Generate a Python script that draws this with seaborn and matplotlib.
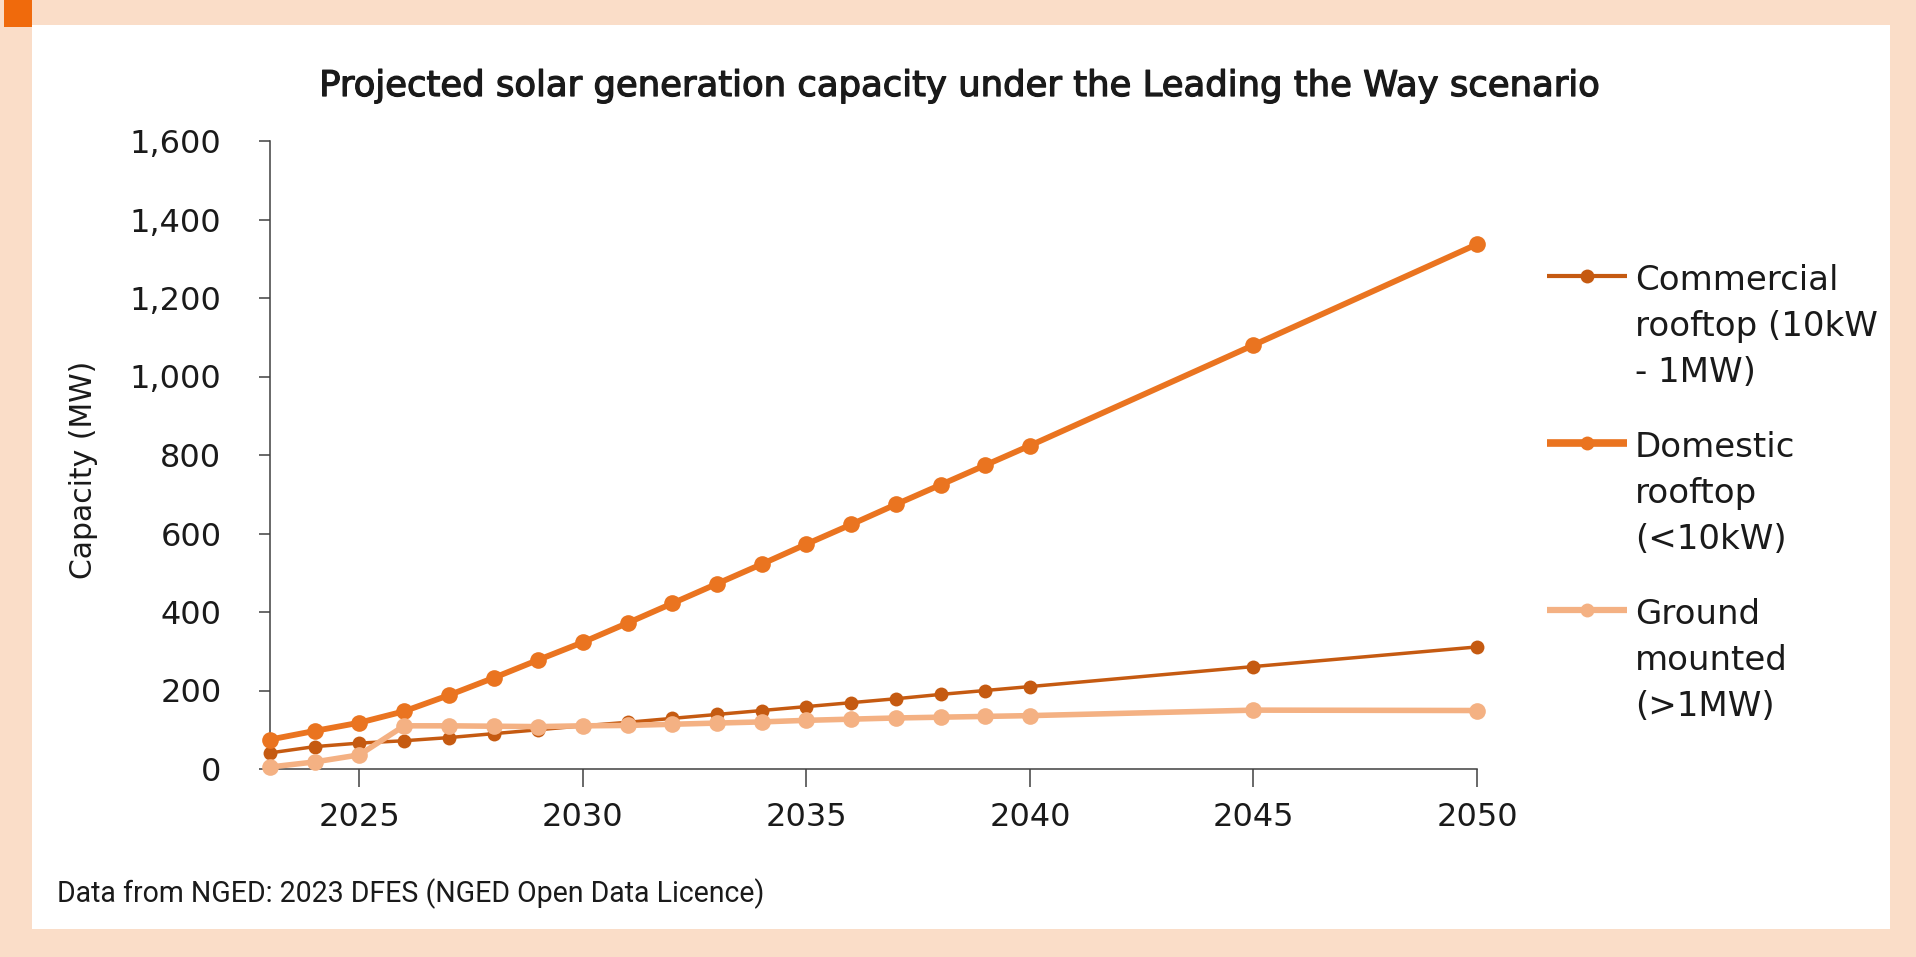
import matplotlib
matplotlib.use("Agg")
import matplotlib.pyplot as plt
from matplotlib.lines import Line2D
from matplotlib.patches import Rectangle
import matplotlib.patheffects as pe
import seaborn as sns
import pandas as pd

# Projected capacity (MW), Leading the Way scenario
years = [2023, 2024, 2025, 2026, 2027, 2028, 2029, 2030, 2031, 2032,
         2033, 2034, 2035, 2036, 2037, 2038, 2039, 2040, 2045, 2050]
commercial = [41, 57, 66, 72, 80, 90, 100, 110, 119, 129,
              139, 149, 159, 169, 179, 190, 200, 210, 261, 311]
domestic = [75, 97, 118, 147, 188, 232, 278, 323, 372, 422,
            472, 522, 573, 623, 674, 724, 774, 824, 1080, 1337]
ground = [5, 18, 36, 110, 110, 109, 108, 110, 111, 114,
          117, 120, 124, 127, 130, 132, 134, 136, 150, 149]

series_names = ["Commercial\nrooftop (10kW\n- 1MW)",
                "Domestic\nrooftop\n(<10kW)",
                "Ground\nmounted\n(>1MW)"]
series_values = [commercial, domestic, ground]
series_colors = ["#C55A11", "#EA7420", "#F4B183"]
line_widths = [2.5, 4.2, 4.0]
marker_sizes = [10, 12, 12]
legend_widths = [3.0, 5.5, 4.5]

x_ticks = [2025, 2030, 2035, 2040, 2045, 2050]
y_ticks = [0, 200, 400, 600, 800, 1000, 1200, 1400, 1600]

title = "Projected solar generation capacity under the Leading the Way scenario"
y_label = "Capacity (MW)"
source = "Data from NGED: 2023 DFES (NGED Open Data Licence)"

sns.set_theme(style="white")
plt.rcParams["font.family"] = ["DejaVu Sans"]

W, H = 1916, 957
fig = plt.figure(figsize=(W / 100, H / 100), dpi=100)
fig.patch.set_facecolor("#FADDC8")


def fx(px):
    return px / W


def fy(py):
    return 1 - py / H


# white card and the orange corner tab
fig.add_artist(Rectangle((fx(32), fy(929)), fx(1890) - fx(32), fy(25) - fy(929),
                         transform=fig.transFigure, facecolor="white",
                         edgecolor="none", zorder=0))
fig.add_artist(Rectangle((fx(4), fy(27)), fx(32) - fx(4), fy(0) - fy(27),
                         transform=fig.transFigure, facecolor="#F06A0C",
                         edgecolor="none", zorder=0))

ax = fig.add_axes([fx(270), fy(769), fx(1477) - fx(270), fy(141) - fy(769)])
ax.set_facecolor("none")

frames = []
for name, vals in zip(series_names, series_values):
    frames.append(pd.DataFrame({"year": years, "capacity": vals, "series": name}))
df = pd.concat(frames, ignore_index=True)

draw_order = [2, 0, 1]
for i in draw_order:
    name = series_names[i]
    sub = df[df["series"] == name]
    sns.lineplot(data=sub, x="year", y="capacity", ax=ax, color=series_colors[i],
                 linewidth=line_widths[i], marker="o", markersize=marker_sizes[i],
                 markeredgewidth=0, legend=False, clip_on=False, zorder=3 + i)

ax.set_xlim(2023, 2050)
ax.set_ylim(0, 1600)
ax.set_xticks(x_ticks)
ax.set_yticks(y_ticks)
ax.set_yticklabels([f"{v:,}" for v in y_ticks])
ax.set_xlabel("")
ax.set_ylabel("")

for side in ["top", "right"]:
    ax.spines[side].set_visible(False)
for side in ["left", "bottom"]:
    ax.spines[side].set_color("#404040")
    ax.spines[side].set_linewidth(1.1)

ax.tick_params(axis="y", which="major", direction="out", length=8, width=1.1,
               color="#404040", labelsize=23, labelcolor="#1a1a1a", pad=27, left=True)
ax.tick_params(axis="x", which="major", direction="out", length=13, width=1.1,
               color="#404040", labelsize=23, labelcolor="#1a1a1a", pad=11, bottom=True)

fig.text(fx(83), fy(470), y_label, rotation=90, ha="center", va="center",
         fontsize=21.5, color="#1a1a1a")

t = fig.text(fx(960), fy(86), title, ha="center", va="center",
             fontsize=20, color="#1a1a1a",
             path_effects=[pe.withStroke(linewidth=0.9, foreground="#1a1a1a")])
s = fig.text(fx(57), fy(894), source, ha="left", va="center",
             fontsize=15, color="#1a1a1a", family=["Roboto", "DejaVu Sans"])

# scale title and source so they span their intended widths
fig.canvas.draw()
renderer = fig.canvas.get_renderer()
for txt, target in [(t, 1280), (s, 709)]:
    w = txt.get_window_extent(renderer).width
    txt.set_fontsize(txt.get_fontsize() * target / w)

# legend keys with labels aligned to the first line
key_y = [276, 443, 610]
for i in range(3):
    y = fy(key_y[i])
    fig.add_artist(Line2D([fx(1547), fx(1627)], [y, y], transform=fig.transFigure,
                          color=series_colors[i], linewidth=legend_widths[i],
                          solid_capstyle="butt"))
    fig.add_artist(Line2D([fx(1587)], [y], transform=fig.transFigure,
                          color=series_colors[i], marker="o",
                          markersize=10, markeredgewidth=0, linestyle="none"))
    fig.text(fx(1635), fy(key_y[i] - 12), series_names[i], ha="left",
             va="top", fontsize=24.5, color="#1a1a1a", linespacing=1.5)

fig.savefig("out.png", dpi=100, facecolor=fig.get_facecolor())
